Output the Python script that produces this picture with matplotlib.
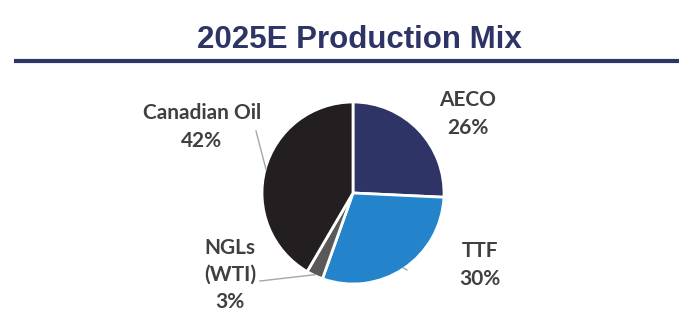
import numpy as np
import matplotlib.pyplot as plt

# data
labels = ["AECO", "TTF", "NGLs\n(WTI)", "Canadian Oil"]
shares = [26, 30, 3, 42]
colors = ["#2E3566", "#2384CC", "#595959", "#231F20"]

# label anchor positions (pixel coords, y up) and leader line end points
label_pos = [(468, 212), (480, 61), (230, 51), (202, 199)]
leader_end = [None, (407, 56), (260, 45), (256, 195)]

W, H = 694, 326
fig = plt.figure(figsize=(W / 100, H / 100), dpi=100)
ax = fig.add_axes([0, 0, 1, 1])

cx, cy, r = 353, 133, 91
wedges, _ = ax.pie(shares, colors=colors, startangle=90, counterclock=False,
                   center=(cx, cy), radius=r, frame=True,
                   wedgeprops=dict(edgecolor="white", linewidth=2))
ax.set_xlim(0, W)
ax.set_ylim(0, H)
ax.set_aspect("equal")
ax.axis("off")

# title and rule
ax.text(W / 2 + 12, H - 40, "2025E Production Mix", ha="center", va="center",
        fontsize=22.5, fontweight="bold", color="#2E3566", family="Liberation Sans")
ax.plot([14, 679], [H - 61, H - 61], color="#2E3566", lw=3, solid_capstyle="butt")

for w, lab, val, pos, end in zip(wedges, labels, shares, label_pos, leader_end):
    ax.text(pos[0], pos[1], f"{lab}\n{val}%", ha="center", va="center",
            fontsize=15, fontweight="bold", color="#404040", family="Lato",
            linespacing=1.45)
    if end is not None:
        mid = np.deg2rad((w.theta1 + w.theta2) / 2)
        sx, sy = cx + 0.99 * r * np.cos(mid), cy + 0.99 * r * np.sin(mid)
        ax.plot([sx, end[0]], [sy, end[1]], color="#A6A6A6", lw=1)

fig.savefig("out.png", dpi=100)
